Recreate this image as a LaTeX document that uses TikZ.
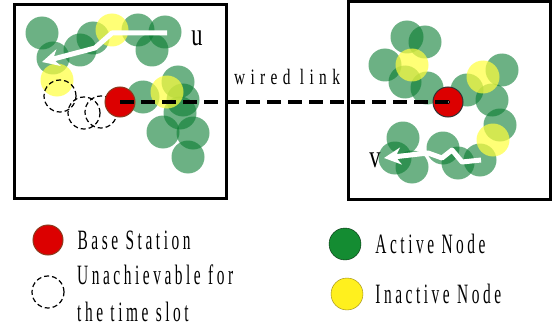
\documentclass[tikz,border=0pt]{standalone}
\usepackage{fontspec}
\usepackage{tikz}
\usetikzlibrary{arrows.meta,positioning}
\setmainfont{Liberation Serif}
\definecolor{SNGreen}{HTML}{0A7D32}
\definecolor{SNYellow}{HTML}{FFFF3C}
\definecolor{SNRed}{HTML}{DC0000}
\definecolor{SNBrown}{HTML}{8C3A1E}
\definecolor{KeyGreen}{HTML}{148C32}
\definecolor{KeyYellow}{HTML}{FFF01E}
\definecolor{KeyOlive}{HTML}{968214}
\newcommand{\narrow}[2][0.55]{\scalebox{#1}[1]{#2}}

\begin{document}
\begin{tikzpicture}[x=1pt,y=-1pt,
        sensor/.style={circle,minimum size=33pt,inner sep=0pt,
                       fill=SNGreen,fill opacity=0.6},
        idle/.style={circle,minimum size=33pt,inner sep=0pt,
                     fill=SNYellow,fill opacity=0.7},
        unreach/.style={circle,minimum size=32pt,inner sep=0pt,draw=black,
                        line width=1.2pt,dash pattern=on 5pt off 3pt},
        base/.style={circle,minimum size=30pt,inner sep=0pt,
                     fill=SNRed,draw=SNBrown,line width=1pt},
        area/.style={draw=black,line width=3pt},
        route/.style={white,line width=5pt,line join=round,
                      -{Stealth[length=17pt,width=17pt]}},
        link/.style={line width=3.5pt,dash pattern=on 14pt off 7pt},
        lbl/.style={font=\fontsize{28}{30}\selectfont\addfontfeature{LetterSpace=23},
                    inner sep=0pt,anchor=west}]
        \useasboundingbox[fill=white] (0,0) rectangle (557,329);
        % the two areas
        \draw[area] (14,5) rectangle (226,198);
        \draw[area] (348,2) rectangle (550,199);
        % area u
        \foreach \p [count=\i] in {(42,33),(53,58),(80,50),(93,38),(138,30),
            (165,32),(152,50),(143,97),(178,82),(183,100),(180,113),
            (163,132),(193,133),(188,157)}
          \node[sensor] (gu\i) at \p {};
        \foreach \p [count=\i] in {(112,30),(57,80),(167,92)}
          \node[idle] (yu\i) at \p {};
        \foreach \p [count=\i] in {(60,96),(84,113),(101,112)}
          \node[unreach] (xu\i) at \p {};
        \coordinate (u0) at (167,33);
        \coordinate (u1) at (112,33);
        \coordinate (u2) at (95,48);
        \coordinate (u3) at (42,62);
        \draw[route] (u0)--(u1)--(u2)--(u3);
        \node[base] (bsU) at (120,102) {};
        \node[font=\fontsize{32}{34}\selectfont,inner sep=0pt] (nameU)
          at (197,38) {\narrow[0.7]{u}};
        % area v
        \foreach \p [count=\i] in {(407,37),(425,42),(385,65),(405,82),(427,88),
            (467,90),(502,70),(492,100),(500,125),(403,138),(395,158),
            (412,167),(443,148),(458,163),(480,160)}
          \node[sensor] (gv\i) at \p {};
        \foreach \p [count=\i] in {(412,65),(483,77),(493,140)}
          \node[idle] (yv\i) at \p {};
        \coordinate (v0) at (481,160);
        \coordinate (v1) at (462,162);
        \coordinate (v2) at (452,150);
        \coordinate (v3) at (442,158);
        \coordinate (v4) at (428,153);
        \coordinate (v5) at (384,158);
        \draw[route] (v0)--(v1)--(v2)--(v3)--(v4)--(v5);
        \node[base,draw=black!80] (bsV) at (448,102) {};
        \fill[black] (bsV.center) circle (2pt);
        \fill[white] (bsV.center) circle (0.8pt);
        \node[font=\fontsize{32}{34}\selectfont,inner sep=0pt] (nameV)
          at (375,160) {\narrow[0.7]{v}};
        % wired link
        \draw[link] (bsU.center)--(bsV.center);
        \node[font=\fontsize{22}{24}\selectfont\addfontfeature{LetterSpace=35},
              inner sep=0pt] (wire) at (287,77) {\narrow[0.7]{wired link}};
        % legend
        \node[base] (keyBase) at (48,240) {};
        \node[lbl,right=14pt of keyBase] (keyBaseTxt) {\narrow{Base Station}};
        \node[unreach] (keyUnreach) at (48,292) {};
        \node[lbl] (keyUnreachTxt) at (77,275) {\narrow{Unachievable for}};
        \node[lbl] (keySlotTxt) at (77,312) {\narrow{the time slot}};
        \node[circle,minimum size=32pt,inner sep=0pt,fill=KeyGreen,
              draw=black!70!KeyGreen] (keyActive) at (345,244) {};
        \node[lbl,right=14pt of keyActive] (keyActiveTxt) {\narrow{Active Node}};
        \node[circle,minimum size=32pt,inner sep=0pt,fill=KeyYellow,
              draw=KeyOlive] (keyIdle) at (347,294) {};
        \node[lbl,right=12pt of keyIdle] (keyIdleTxt) {\narrow{Inactive Node}};
      \end{tikzpicture}
\end{document}
